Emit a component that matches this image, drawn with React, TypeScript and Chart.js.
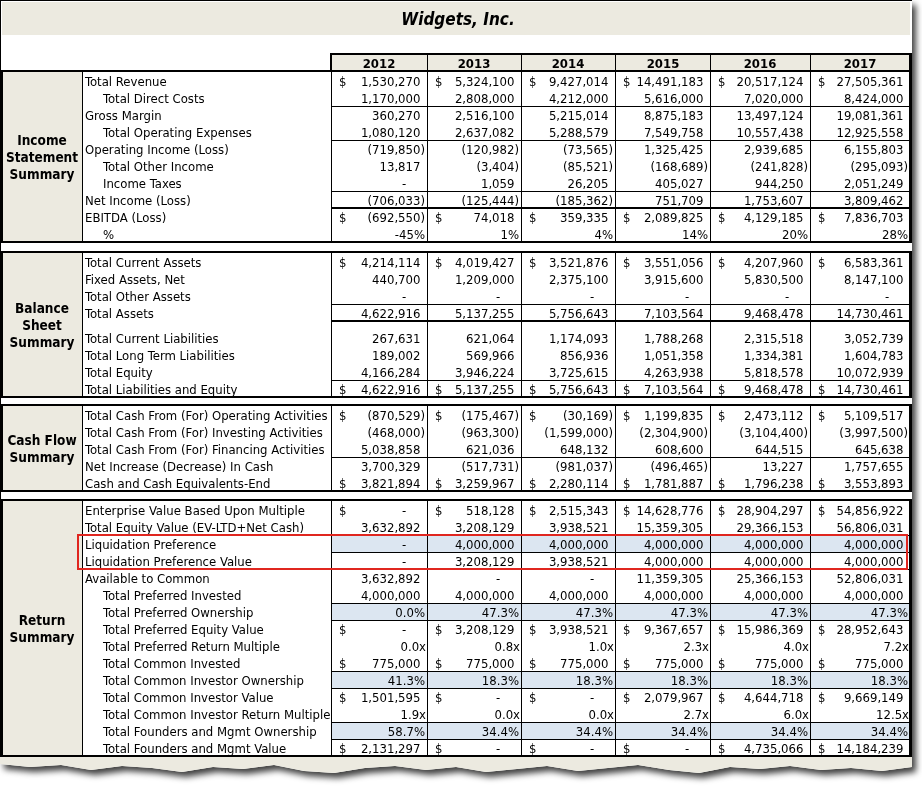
import React, { useEffect, useRef } from 'react';
import { Chart, registerables } from 'chart.js';

Chart.register(...registerables);

// ---------------- DATA ----------------
const title = 'Widgets, Inc.';
const years = ['2012', '2013', '2014', '2015', '2016', '2017'];

// Income Statement
const totalRevenue = [1530270, 5324100, 9427014, 14491183, 20517124, 27505361];
const totalDirectCosts = [1170000, 2808000, 4212000, 5616000, 7020000, 8424000];
const grossMargin = [360270, 2516100, 5215014, 8875183, 13497124, 19081361];
const totalOperatingExpenses = [1080120, 2637082, 5288579, 7549758, 10557438, 12925558];
const operatingIncome = [-719850, -120982, -73565, 1325425, 2939685, 6155803];
const totalOtherIncome = [13817, -3404, -85521, -168689, -241828, -295093];
const incomeTaxes = [0, 1059, 26205, 405027, 944250, 2051249];
const netIncome = [-706033, -125444, -185362, 751709, 1753607, 3809462];
const ebitda = [-692550, 74018, 359335, 2089825, 4129185, 7836703];
const ebitdaPct = [-45, 1, 4, 14, 20, 28];

// Balance Sheet
const totalCurrentAssets = [4214114, 4019427, 3521876, 3551056, 4207960, 6583361];
const fixedAssetsNet = [440700, 1209000, 2375100, 3915600, 5830500, 8147100];
const totalOtherAssets = [0, 0, 0, 0, 0, 0];
const totalAssets = [4622916, 5137255, 5756643, 7103564, 9468478, 14730461];
const totalCurrentLiabilities = [267631, 621064, 1174093, 1788268, 2315518, 3052739];
const totalLongTermLiabilities = [189002, 569966, 856936, 1051358, 1334381, 1604783];
const totalEquity = [4166284, 3946224, 3725615, 4263938, 5818578, 10072939];
const totalLiabilitiesEquity = [4622916, 5137255, 5756643, 7103564, 9468478, 14730461];

// Cash Flow
const cashOperating = [-870529, -175467, -30169, 1199835, 2473112, 5109517];
const cashInvesting = [-468000, -963300, -1599000, -2304900, -3104400, -3997500];
const cashFinancing = [5038858, 621036, 648132, 608600, 644515, 645638];
const netIncreaseCash = [3700329, -517731, -981037, -496465, 13227, 1757655];
const cashEnd = [3821894, 3259967, 2280114, 1781887, 1796238, 3553893];

// Return
const enterpriseValue = [0, 518128, 2515343, 14628776, 28904297, 54856922];
const totalEquityValue = [3632892, 3208129, 3938521, 15359305, 29366153, 56806031];
const liquidationPreference = [0, 4000000, 4000000, 4000000, 4000000, 4000000];
const liquidationPreferenceValue = [0, 3208129, 3938521, 4000000, 4000000, 4000000];
const availableToCommon = [3632892, 0, 0, 11359305, 25366153, 52806031];
const preferredInvested = [4000000, 4000000, 4000000, 4000000, 4000000, 4000000];
const preferredOwnership = [0.0, 47.3, 47.3, 47.3, 47.3, 47.3];
const preferredEquityValue = [0, 3208129, 3938521, 9367657, 15986369, 28952643];
const preferredReturnMultiple = [0.0, 0.8, 1.0, 2.3, 4.0, 7.2];
const commonInvested = [775000, 775000, 775000, 775000, 775000, 775000];
const commonOwnership = [41.3, 18.3, 18.3, 18.3, 18.3, 18.3];
const commonValue = [1501595, 0, 0, 2079967, 4644718, 9669149];
const commonReturnMultiple = [1.9, 0.0, 0.0, 2.7, 6.0, 12.5];
const foundersOwnership = [58.7, 34.4, 34.4, 34.4, 34.4, 34.4];
const foundersValue = [2131297, 0, 0, 0, 4735066, 14184239];

// ---------------- STRUCTURE ----------------
type Fmt = 'usd' | 'pct0' | 'pct1' | 'mult';
interface Row {
  label: string;
  values: number[];
  fmt: Fmt;
  indent?: boolean;
  dollar?: boolean;
  line?: number;
  shade?: boolean;
  spacerAfter?: number;
}
interface Section {
  title: string[];
  top: number;
  rows: Row[];
}

const sections: Section[] = [
  {
    title: ['Income', 'Statement', 'Summary'],
    top: 72,
    rows: [
      { label: 'Total Revenue', values: totalRevenue, fmt: 'usd', dollar: true },
      { label: 'Total Direct Costs', values: totalDirectCosts, fmt: 'usd', indent: true, line: 1 },
      { label: 'Gross Margin', values: grossMargin, fmt: 'usd' },
      { label: 'Total Operating Expenses', values: totalOperatingExpenses, fmt: 'usd', indent: true, line: 1 },
      { label: 'Operating Income (Loss)', values: operatingIncome, fmt: 'usd' },
      { label: 'Total Other Income', values: totalOtherIncome, fmt: 'usd', indent: true },
      { label: 'Income Taxes', values: incomeTaxes, fmt: 'usd', indent: true, line: 1 },
      { label: 'Net Income (Loss)', values: netIncome, fmt: 'usd', line: 2 },
      { label: 'EBITDA (Loss)', values: ebitda, fmt: 'usd', dollar: true },
      { label: '%', values: ebitdaPct, fmt: 'pct0', indent: true },
    ],
  },
  {
    title: ['Balance', 'Sheet', 'Summary'],
    top: 253,
    rows: [
      { label: 'Total Current Assets', values: totalCurrentAssets, fmt: 'usd', dollar: true },
      { label: 'Fixed Assets, Net', values: fixedAssetsNet, fmt: 'usd' },
      { label: 'Total Other Assets', values: totalOtherAssets, fmt: 'usd', line: 1 },
      { label: 'Total Assets', values: totalAssets, fmt: 'usd', line: 2, spacerAfter: 8 },
      { label: 'Total Current Liabilities', values: totalCurrentLiabilities, fmt: 'usd' },
      { label: 'Total Long Term Liabilities', values: totalLongTermLiabilities, fmt: 'usd' },
      { label: 'Total Equity', values: totalEquity, fmt: 'usd', line: 1 },
      { label: 'Total Liabilities and Equity', values: totalLiabilitiesEquity, fmt: 'usd', dollar: true },
    ],
  },
  {
    title: ['Cash Flow', 'Summary'],
    top: 406,
    rows: [
      { label: 'Total Cash From (For) Operating Activities', values: cashOperating, fmt: 'usd', dollar: true },
      { label: 'Total Cash From (For) Investing Activities', values: cashInvesting, fmt: 'usd' },
      { label: 'Total Cash From (For) Financing Activities', values: cashFinancing, fmt: 'usd', line: 1 },
      { label: 'Net Increase (Decrease) In Cash', values: netIncreaseCash, fmt: 'usd' },
      { label: 'Cash and Cash Equivalents-End', values: cashEnd, fmt: 'usd', dollar: true },
    ],
  },
  {
    title: ['Return', 'Summary'],
    top: 501,
    rows: [
      { label: 'Enterprise Value Based Upon Multiple', values: enterpriseValue, fmt: 'usd', dollar: true },
      { label: 'Total Equity Value (EV-LTD+Net Cash)', values: totalEquityValue, fmt: 'usd', line: 1 },
      { label: 'Liquidation Preference', values: liquidationPreference, fmt: 'usd', shade: true, line: 1 },
      { label: 'Liquidation Preference Value', values: liquidationPreferenceValue, fmt: 'usd', line: 1 },
      { label: 'Available to Common', values: availableToCommon, fmt: 'usd' },
      { label: 'Total Preferred Invested', values: preferredInvested, fmt: 'usd', indent: true, line: 1 },
      { label: 'Total Preferred Ownership', values: preferredOwnership, fmt: 'pct1', indent: true, shade: true, line: 1 },
      { label: 'Total Preferred Equity Value', values: preferredEquityValue, fmt: 'usd', indent: true, dollar: true },
      { label: 'Total Preferred Return Multiple', values: preferredReturnMultiple, fmt: 'mult', indent: true },
      { label: 'Total Common Invested', values: commonInvested, fmt: 'usd', indent: true, dollar: true, line: 1 },
      { label: 'Total Common Investor Ownership', values: commonOwnership, fmt: 'pct1', indent: true, shade: true, line: 1 },
      { label: 'Total Common Investor Value', values: commonValue, fmt: 'usd', indent: true, dollar: true },
      { label: 'Total Common Investor Return Multiple', values: commonReturnMultiple, fmt: 'mult', indent: true, line: 1 },
      { label: 'Total Founders and Mgmt Ownership', values: foundersOwnership, fmt: 'pct1', indent: true, shade: true, line: 1 },
      { label: 'Total Founders and Mgmt Value', values: foundersValue, fmt: 'usd', indent: true, dollar: true },
    ],
  },
];

const highlightSection = 3;
const highlightRows = [2, 3];

// ---------------- LAYOUT / STYLE ----------------
const W = 922;
const H = 789;
const ROW_H = 17;
const COLS = [331, 427, 521, 615, 710, 810, 910];
const LABEL_DIV = 82;
const RIGHT = 912;
const FF = '"DejaVu Sans Condensed", "DejaVu Sans", sans-serif';
const FS = 13;
const BEIGE = '#ECEAE0';
const SHADE = '#DCE6F1';
const RED = '#E0261F';

const fmtNum = (v: number, dec = 0) =>
  Math.abs(v).toLocaleString('en-US', { minimumFractionDigits: dec, maximumFractionDigits: dec });

const tablePlugin = {
  id: 'tablePlugin',
  afterDraw(chart: any) {
    const ctx: CanvasRenderingContext2D = chart.ctx;
    const xs = chart.scales.x;
    const ys = chart.scales.y;
    const X = (v: number) => Math.round(xs.getPixelForValue(v));
    const Y = (v: number) => Math.round(ys.getPixelForValue(v));
    const rect = (x1: number, y1: number, x2: number, y2: number, c: string) => {
      ctx.fillStyle = c;
      ctx.fillRect(X(x1), Y(y1), X(x2) - X(x1), Y(y2) - Y(y1));
    };

    ctx.save();
    // page background with shadow & torn bottom edge (decorative)
    const tear = [0, 3, 1, 6, 2, 4, 8, 3, 5, 1, 7, 9, 4, 2, 6, 3, 8, 5, 2, 7, 4, 1, 6, 9, 3, 5, 2, 6, 4, 7, 3];
    const tearY = 764;
    const pagePath = () => {
      ctx.beginPath();
      ctx.moveTo(X(0), Y(0));
      ctx.lineTo(X(RIGHT), Y(0));
      ctx.lineTo(X(RIGHT), Y(tearY + tear[tear.length - 1]));
      for (let i = tear.length - 1; i >= 0; i--) {
        ctx.lineTo(X((RIGHT * i) / (tear.length - 1)), Y(tearY + tear[i]));
      }
      ctx.closePath();
    };
    ctx.fillStyle = '#ffffff';
    ctx.fillRect(0, 0, W, H);
    ctx.save();
    ctx.shadowColor = 'rgba(0,0,0,0.75)';
    ctx.shadowBlur = 6;
    ctx.shadowOffsetX = 4;
    ctx.shadowOffsetY = 5;
    pagePath();
    ctx.fillStyle = '#ffffff';
    ctx.fill();
    ctx.restore();
    ctx.save();
    pagePath();
    ctx.clip();
    rect(0, 757, RIGHT, 790, BEIGE);
    ctx.restore();

    // frame lines top/left
    rect(0, 0, RIGHT, 1, '#000');
    rect(0, 0, 1, 757, '#000');

    // title band
    rect(2, 2, RIGHT - 2, 35, BEIGE);
    ctx.fillStyle = '#000';
    ctx.font = `italic bold 17px ${FF}`;
    ctx.textAlign = 'center';
    ctx.textBaseline = 'alphabetic';
    ctx.fillText(title, X(458), Y(25));

    // header
    rect(COLS[0], 53, RIGHT, 72, BEIGE);
    ctx.font = `bold ${FS}px ${FF}`;
    ctx.fillStyle = '#000';
    years.forEach((yr, i) => {
      ctx.fillText(yr, X((COLS[i] + COLS[i + 1]) / 2), Y(68));
    });
    rect(COLS[0] - 1, 53, RIGHT, 55, '#000');
    rect(COLS[0] - 1, 53, COLS[0] + 1, 72, '#000');
    for (let i = 1; i < COLS.length - 1; i++) rect(COLS[i], 55, COLS[i] + 1, 71, '#000');
    rect(RIGHT - 3, 53, RIGHT, 72, '#000');

    sections.forEach((sec, si) => {
      let y = sec.top;
      const tops: number[] = [];
      sec.rows.forEach((r) => {
        tops.push(y);
        y += ROW_H + (r.spacerAfter || 0);
      });
      const bottom = y;
      // backgrounds
      rect(1, sec.top, LABEL_DIV, bottom, BEIGE);
      sec.rows.forEach((r, ri) => {
        if (r.shade) rect(COLS[0], tops[ri], COLS[6], tops[ri] + ROW_H, SHADE);
      });
      // inner horizontal lines
      sec.rows.forEach((r, ri) => {
        if (r.line) {
          const yb = tops[ri] + ROW_H;
          if (r.line === 2) rect(COLS[0], yb - 1, COLS[6], yb + 1, '#000');
          else rect(COLS[0], yb, COLS[6], yb + 1, '#000');
        }
      });
      // vertical lines
      rect(LABEL_DIV, sec.top, LABEL_DIV + 1, bottom, '#000');
      for (let i = 0; i < COLS.length - 1; i++) rect(COLS[i], sec.top, COLS[i] + 1, bottom, '#000');

      // section title
      ctx.font = `bold 13.5px ${FF}`;
      ctx.textAlign = 'center';
      ctx.fillStyle = '#000';
      const mid = (sec.top + bottom) / 2;
      const n = sec.title.length;
      sec.title.forEach((t, ti) => {
        const cy = mid + (ti - (n - 1) / 2) * 17;
        ctx.fillText(t, X(42), Y(cy + 5));
      });

      // row labels and values
      ctx.font = `${FS}px ${FF}`;
      const parenW = ctx.measureText(')').width;
      sec.rows.forEach((r, ri) => {
        const base = Y(tops[ri] + 14);
        ctx.textAlign = 'left';
        ctx.fillText(r.label, X(r.indent ? 103 : 85), base);
        r.values.forEach((v, ci) => {
          const left = COLS[ci];
          const right = COLS[ci + 1];
          if (r.dollar) {
            ctx.textAlign = 'left';
            ctx.fillText('$', X(left + 8), base);
          }
          if (r.fmt === 'usd') {
            if (v === 0) {
              ctx.textAlign = 'center';
              ctx.fillText('-', X(right - 23), base);
            } else if (v < 0) {
              ctx.textAlign = 'right';
              ctx.fillText(`(${fmtNum(v)})`, X(right - 2), base);
            } else {
              ctx.textAlign = 'right';
              ctx.fillText(fmtNum(v), xs.getPixelForValue(right - 2) - parenW, base);
            }
          } else if (r.fmt === 'pct0') {
            ctx.textAlign = 'right';
            ctx.fillText(`${v < 0 ? '-' : ''}${fmtNum(v)}%`, X(right - 2), base);
          } else if (r.fmt === 'pct1') {
            ctx.textAlign = 'right';
            ctx.fillText(`${fmtNum(v, 1)}%`, X(right - 2), base);
          } else {
            ctx.textAlign = 'right';
            ctx.fillText(`${fmtNum(v, 1)}x`, X(right - 1), base);
          }
        });
      });

      // highlight box
      if (si === highlightSection) {
        const y1 = tops[highlightRows[0]];
        const y2 = tops[highlightRows[highlightRows.length - 1]] + ROW_H;
        ctx.strokeStyle = RED;
        ctx.lineWidth = 2;
        ctx.strokeRect(X(78), Y(y1), X(907) - X(78), Y(y2) - Y(y1));
      }

      // section frame (thick)
      rect(0, sec.top - 2, RIGHT, sec.top, '#000');
      rect(0, bottom - 1, RIGHT, bottom + 1, '#000');
      rect(0, sec.top - 2, 3, bottom + 1, '#000');
      rect(RIGHT - 3, sec.top - 2, RIGHT, bottom + 1, '#000');
    });
    ctx.restore();
  },
};

export default function App() {
  const ref = useRef<HTMLCanvasElement | null>(null);
  useEffect(() => {
    document.body.style.margin = '0';
    const canvas = ref.current;
    if (!canvas) return;
    const chart = new Chart(canvas, {
      type: 'scatter',
      data: { datasets: [] },
      options: {
        animation: false,
        responsive: false,
        maintainAspectRatio: false,
        devicePixelRatio: 1,
        events: [],
        layout: { padding: 0 },
        plugins: { legend: { display: false }, tooltip: { enabled: false } },
        scales: {
          x: { type: 'linear', min: 0, max: W, display: false },
          y: { type: 'linear', min: 0, max: H, reverse: true, display: false },
        },
      },
      plugins: [tablePlugin],
    } as any);
    return () => chart.destroy();
  }, []);
  return <canvas ref={ref} width={W} height={H} style={{ display: 'block' }} />;
}
